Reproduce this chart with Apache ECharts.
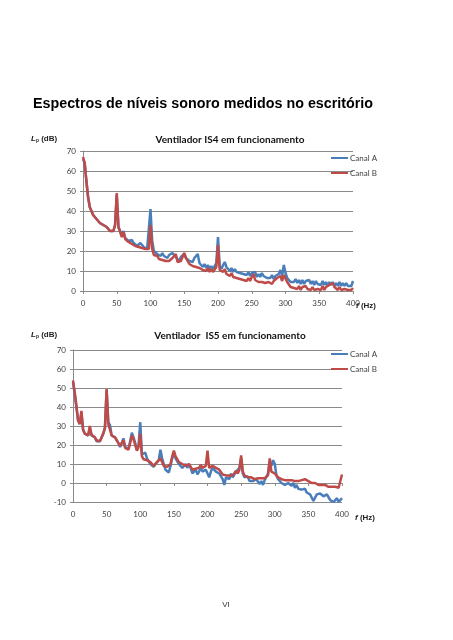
<!DOCTYPE html>
<html><head><meta charset="utf-8">
<script src="https://cdn.jsdelivr.net/npm/echarts@6/dist/echarts.min.js"></script>
<style>html,body{margin:0;padding:0;background:#fff}#c{width:453px;height:640px}</style>
</head><body><div id="c"></div>
<script>
const freq = [0,2.5,5,7.5,10,12.5,15,17.5,20,22.5,25,27.5,30,32.5,35,37.5,40,42.5,45,47.5,50,52.5,55,57.5,60,62.5,65,67.5,70,72.5,75,77.5,80,82.5,85,87.5,90,92.5,95,97.5,100,102.5,105,107.5,110,112.5,115,117.5,120,122.5,125,127.5,130,132.5,135,137.5,140,142.5,145,147.5,150,152.5,155,157.5,160,162.5,165,167.5,170,172.5,175,177.5,180,182.5,185,187.5,190,192.5,195,197.5,200,202.5,205,207.5,210,212.5,215,217.5,220,222.5,225,227.5,230,232.5,235,237.5,240,242.5,245,247.5,250,252.5,255,257.5,260,262.5,265,267.5,270,272.5,275,277.5,280,282.5,285,287.5,290,292.5,295,297.5,300,302.5,305,307.5,310,312.5,315,317.5,320,322.5,325,327.5,330,332.5,335,337.5,340,342.5,345,347.5,350,352.5,355,357.5,360,362.5,365,367.5,370,372.5,375,377.5,380,382.5,385,387.5,390,392.5,395,397.5,400];

// Chart 1: Ventilador IS4
const is4CanalA = [
66,64,55,47,42,40,38,37,36,35,
34,33.5,33,32.5,32,31,30,29.5,30,33,
48,32,31.5,28,30,26.5,26,25,24.5,25.5,
24,23,22.5,23,24,24.5,22,21.5,21,22,
41,25,20,21,18.5,19.5,17.5,19,17.5,18.5,
16.5,18,17.5,19,18,17,16,15,17,16.5,
18.5,16.5,17,15,16,14.5,16.5,16,18.5,14,
13.5,12,13.5,11.5,13,11,12.5,11,12.5,14,
27,12.5,11,13,14.5,12,11.5,10,11.5,9.5,
11,9.5,10.5,9,10,8.5,9.5,8,9.5,7.5,
9,8,9.5,7,8.5,7,9,7.5,8,6.5,
7.5,6.5,8,6,7.5,6.5,8.5,10.5,7.5,13,
9,6.5,6.5,4.5,5.5,4.5,6,4,5.5,3.5,
5.5,3.5,5,4,5.5,3.5,5,3,5,3.5,
4.5,3,5,3,4.5,2.5,4.5,3,4.5,2.5,
4,2.5,4.5,2.5,4,2.5,4,2.5,3.5,2.5,
5];
const is4CanalB = [
67,64,55,47,42,40,38,37,36,35,
34,33,33,32.5,32,31,30,29,30,33,
49,32,31,27,29.5,26,25.5,24.5,24,23.5,
23,22.5,22,22,22.5,21.5,21,21,20,21,
33,21,18,17,17.5,16,17,15.5,16.5,15,
16,15,16,16.5,17.5,18.5,14.5,13.5,15,14,
19,16.5,15.5,13.5,14.5,12.5,13.5,12,13,11.5,
12,10.5,11.5,10,11.5,9.5,11,9.5,10.5,12,
23,10.5,11,9.5,11,8.5,9.5,7.5,9,7,
8,6.5,7.5,6,7,5.5,6.5,5,6.5,5,
7,8.5,5.5,6,4.5,5.5,4.5,5.5,4,5,
4.5,5.5,3.5,5,4.5,6.5,5.5,7.5,5,8,
7,4.5,3.5,2,3,1.5,2.5,1,2.5,0.5,
2,1,2.5,1,2,0.5,2,0.5,1.5,1,
2,0.5,2.5,0.5,2,1,3,3.5,4,2,
1.5,0.5,2,0.5,1.5,1,2,0.5,1.5,0.5,
1.5];

// Chart 2: Ventilador IS5
const is5CanalA = [
53,47,40,33,31,37,28,26,25,25,
29,25,25,24,22,21.5,22,24,26,29,
49,32,30.5,25,25.5,24,23,21,19,21,
23.5,19,18,18,22,26.5,24,21,17.5,20,
32,15,14.5,16,13,12,10,9.5,8.5,10,
10,12,17.5,13,10,7,6,5.5,9,13,
16,13,12,10,10,8,9,10,8,9.5,
8,5,6,7,4.5,6,8,6,5,7,
8,3,6,8,9,6,7,5,4,2,
-1,3,4,2,5,3,4,6,5,8,
13,5,3,2,3.5,1,2,1,0,2,
1,-0.5,1,-1,1.5,2,5,11,9,12,
10,4,2,1,0,1,-1,-2,0,-1,
-1.5,0,-2.5,-1,-3,-2,-3.5,-4,-3,-5,
-4.5,-6,-7,-9.5,-10,-6,-7,-5.5,-6.5,-7,
-8,-6,-7.5,-9,-8,-10,-9,-8,-10,-9,
-8];
const is5CanalB = [
54,48,41,33,31,38,28,26,25.5,25,
30,25.5,25,24,22.5,21.5,22,24,26,29,
49.5,31,30,25,25,24,23,21,19.5,21,
22.5,18.5,18,17.5,21,25,23,20,17,19,
26,14,12.5,13.5,12,12.5,11,10,9,10,
11,11.5,13,12,9,8,8.5,8,10,14,
17,14,12.5,11,11.5,10,10.5,9,9.5,10,
9,7,6.5,7.5,7,8,9.5,8,7,9,
17,8,7.5,9,9.5,8,9,7,6,4.5,
3.5,4,5,4,3,4,5,6.5,5,7,
14.5,6,4,3.5,3,2.5,3,2.5,2,3,
2.5,2,2.5,3,2.5,3,4,13,6,7,
5,4,3,2.5,2,2.5,1.5,2,1.5,1,
1.5,2,1,0.5,1,2,1.5,1,2,1.5,
1,0.5,0,-0.5,0,-0.5,-1,0,-1,-1.5,
-1,-1.5,-2,-1.5,-2,-2.5,-2,-3,-2.5,-3.5,
4.5];

const xTicks = [0,50,100,150,200,250,300,350,400];
const yTicksTop = [0,10,20,30,40,50,60,70];
const yTicksBottom = [-10,0,10,20,30,40,50,60,70];

const BLUE = '#4a7ebb', RED = '#be4b48';
const FONT = "Lato, 'Liberation Sans', sans-serif";
const AFONT = "'Liberation Sans', Arial, sans-serif";
const GRIDC = '#8a8a8a';
const pair = (vals) => freq.map((f, i) => [f, vals[i]]);

function xAxis(gi) {
  return {
    gridIndex: gi, type: 'value', min: xTicks[0], max: xTicks[xTicks.length-1], interval: 50,
    axisLine: {show: true, onZero: true, lineStyle: {color: GRIDC, width: 1}},
    axisTick: {show: true, length: 3, lineStyle: {color: GRIDC}},
    axisLabel: {fontSize: 8, color: '#404040', fontFamily: FONT, margin: 8},
    splitLine: {show: false}
  };
}
function yAxis(gi, ticks) {
  return {
    gridIndex: gi, type: 'value', min: ticks[0], max: ticks[ticks.length-1], interval: 10,
    axisLine: {show: true, lineStyle: {color: GRIDC, width: 1}},
    axisTick: {show: true, length: 3, lineStyle: {color: GRIDC}},
    axisLabel: {fontSize: 8, color: '#404040', fontFamily: FONT, margin: 7},
    splitLine: {show: true, lineStyle: {color: GRIDC, width: 1}}
  };
}
function line(name, gi, vals, color) {
  return {
    name, type: 'line', xAxisIndex: gi, yAxisIndex: gi, data: pair(vals),
    showSymbol: false, symbol: 'none', animation: false,
    lineStyle: {color, width: 2.5}, itemStyle: {color}
  };
}
function legend(top) {
  return {
    data: ['Canal A', 'Canal B'], orient: 'vertical', left: 331, top: top, padding: 0,
    icon: 'rect', itemWidth: 17, itemHeight: 2, itemGap: 7, selectedMode: false,
    textStyle: {fontSize: 8, color: '#404040', fontFamily: FONT, padding: [0,0,0,-3]}
  };
}
function lp(y) {
  return {type: 'text', left: 31, top: y, style: {
    text: '{i|L}{s|p}{n| (dB)}', rich: {
      i: {fontSize: 8, fontStyle: 'italic', fontWeight: 'bold', fontFamily: AFONT, fill: '#222'},
      s: {fontSize: 5, fontWeight: 'bold', fontFamily: AFONT, fill: '#222', verticalAlign: 'bottom', padding: [4,0,0,0]},
      n: {fontSize: 8, fontWeight: 'bold', fontFamily: AFONT, fill: '#222'}
    }}};
}
function fhz(x, y) {
  return {type: 'text', left: x, top: y, style: {
    text: '{i|f}{n| (Hz)}', rich: {
      i: {fontSize: 8, fontStyle: 'italic', fontWeight: 'bold', fontFamily: AFONT, fill: '#222'},
      n: {fontSize: 8, fontWeight: 'bold', fontFamily: AFONT, fill: '#222'}
    }}};
}
function chartTitle(text, y) {
  return {type: 'text', x: 230, y: y, style: {text, textAlign: 'center', textVerticalAlign: 'middle',
    fontSize: 10, fontWeight: 'bold', fontFamily: FONT, fill: '#111'}};
}

const chart = echarts.init(document.getElementById('c'), null, {renderer: 'canvas'});
chart.setOption({
  backgroundColor: '#fff',
  animation: false,
  grid: [
    {left: 83, top: 151, width: 270, height: 140},
    {left: 73, top: 350, width: 269, height: 152}
  ],
  xAxis: [xAxis(0), xAxis(1)],
  yAxis: [yAxis(0, yTicksTop), yAxis(1, yTicksBottom)],
  legend: [legend(154), legend(350)],
  series: [
    line('Canal A', 0, is4CanalA, BLUE),
    line('Canal B', 0, is4CanalB, RED),
    line('Canal A', 1, is5CanalA, BLUE),
    line('Canal B', 1, is5CanalB, RED)
  ],
  graphic: [
    {type: 'text', left: 33, top: 97, style: {text: 'Espectros de níveis sonoro medidos no escritório',
      fontSize: 14.3, fontWeight: 'bold', fontFamily: AFONT, fill: '#000'}},
    chartTitle('Ventilador IS4 em funcionamento', 140),
    chartTitle('Ventilador  IS5 em funcionamento', 336),
    lp(135), lp(331),
    fhz(356, 302), fhz(355, 514),
    {type: 'text', x: 226, y: 605, style: {text: 'VI', textAlign: 'center', textVerticalAlign: 'middle',
      fontSize: 8, fontFamily: AFONT, fill: '#333'}}
  ]
});
</script>
</body></html>
